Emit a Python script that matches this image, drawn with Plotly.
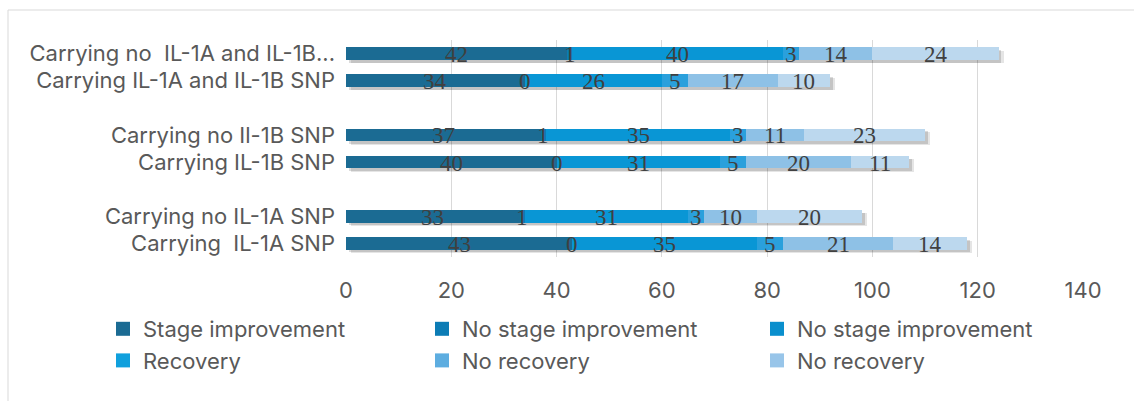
import plotly.graph_objects as go

categories = [
    "Carrying\u00a0\u00a0IL-1A SNP",
    "Carrying no IL-1A SNP",
    " ",
    "Carrying IL-1B SNP",
    "Carrying no Il-1B SNP",
    "  ",
    "Carrying IL-1A and IL-1B SNP",
    "Carrying no\u00a0\u00a0IL-1A and IL-1B...",
]
bar_rows = [
    "Carrying\u00a0\u00a0IL-1A SNP",
    "Carrying no IL-1A SNP",
    "Carrying IL-1B SNP",
    "Carrying no Il-1B SNP",
    "Carrying IL-1A and IL-1B SNP",
    "Carrying no\u00a0\u00a0IL-1A and IL-1B...",
]
series_names = ["Stage improvement", "No stage improvement", "No stage improvement",
                "Recovery", "No recovery", "No recovery"]
s1 = [43, 33, 40, 37, 34, 42]
s2 = [0, 1, 0, 1, 0, 1]
s3 = [35, 31, 31, 35, 26, 40]
s4 = [5, 3, 5, 3, 5, 3]
s5 = [21, 10, 20, 11, 17, 14]
s6 = [14, 20, 11, 23, 10, 24]
series_values = [s1, s2, s3, s4, s5, s6]
colors = ["#1B6B93", "#0C7CB5", "#0996D5", "#2AA0DC", "#8EC1E6", "#BCD8EE"]
legend_colors = ["#1B6B93", "#0C7CB5", "#0A8FCD", "#10A0DD", "#5DADE0", "#98C5E9"]
legend_ids = ["legend", "legend2", "legend3", "legend", "legend2", "legend3"]
x_ticks = [0, 20, 40, 60, 80, 100, 120, 140]

totals = [sum(t) for t in zip(*series_values)]
BAR_W = 0.46

fig = go.Figure()
# soft drop shadow behind each bar (separate axis so it is not stacked)
for shift, alpha in [(0.9, 0.10), (0.5, 0.14)]:
    fig.add_trace(go.Bar(
        y=bar_rows, x=totals, base=shift, orientation="h", width=BAR_W,
        offset=-BAR_W / 2 - 0.07 - shift * 0.06,
        marker=dict(color=f"rgba(0,0,0,{alpha})", line=dict(width=0)),
        showlegend=False, hoverinfo="skip", yaxis="y",
    ))
for name, vals, col in zip(series_names, series_values, colors):
    fig.add_trace(go.Bar(
        y=bar_rows, x=vals, name=name, orientation="h",
        marker=dict(color=col, line=dict(width=0)),
        width=BAR_W, textposition="none", hoverinfo="x+name", yaxis="y2",
        showlegend=False,
    ))
# legend entries with larger square swatches
for name, col, lg in zip(series_names, legend_colors, legend_ids):
    fig.add_trace(go.Scatter(
        x=[None], y=[None], mode="markers", name=name, legend=lg,
        marker=dict(symbol="square", size=14, color=col), yaxis="y2",
    ))

# value labels (incl. zeros) at segment centres
annotations = []
for i, row in enumerate(bar_rows):
    cum = 0
    for vals in series_values:
        v = vals[i]
        annotations.append(dict(
            x=cum + v / 2, y=row, xref="x", yref="y", text=str(v),
            showarrow=False, font=dict(family="Liberation Serif", size=23, color="#404040"),
            xanchor="center", yanchor="middle", yshift=-1,
        ))
        cum += v

TXT = "#595959"
FS = 22
leg_common = dict(orientation="v", yanchor="top", xanchor="left", traceorder="normal",
                  font=dict(family="Inter", size=FS, color=TXT), itemclick=False,
                  bgcolor="rgba(0,0,0,0)", tracegroupgap=0)
PLOT_L, PLOT_W = 346, 737
PLOT_B, PLOT_H = 257, 217
def px_x(p):
    return (p - PLOT_L) / PLOT_W
def px_y(p):
    return (PLOT_B - p) / PLOT_H

fig.update_layout(
    barmode="stack",
    width=1134, height=401,
    margin=dict(l=PLOT_L, r=1134 - PLOT_L - PLOT_W, t=40, b=401 - PLOT_B),
    paper_bgcolor="white", plot_bgcolor="white",
    font=dict(family="Inter", size=FS, color=TXT),
    annotations=annotations,
    xaxis=dict(range=[0, 140], tickvals=x_ticks, showgrid=True, gridcolor="#D9D9D9",
               gridwidth=1, zeroline=False, showline=False, ticks="",
               tickfont=dict(size=FS, color=TXT), ticklabelstandoff=18),
    yaxis=dict(categoryorder="array", categoryarray=categories, type="category",
               range=[-0.5, 7.5], showgrid=False, zeroline=False, showline=False,
               ticks="", tickfont=dict(size=FS, color=TXT), ticklabelstandoff=10),
    yaxis2=dict(categoryorder="array", categoryarray=categories, type="category",
                range=[-0.5, 7.5], overlaying="y", visible=False),
    legend=dict(x=px_x(103), y=px_y(308), **leg_common),
    legend2=dict(x=px_x(422), y=px_y(308), **leg_common),
    legend3=dict(x=px_x(757), y=px_y(308), **leg_common),
    shapes=[dict(type="rect", xref="paper", yref="paper",
                 x0=px_x(8), x1=px_x(1140), y0=px_y(420), y1=px_y(10),
                 line=dict(color="#D9D9D9", width=1), fillcolor="rgba(0,0,0,0)",
                 layer="below")],
)

fig.write_html("out.html")
